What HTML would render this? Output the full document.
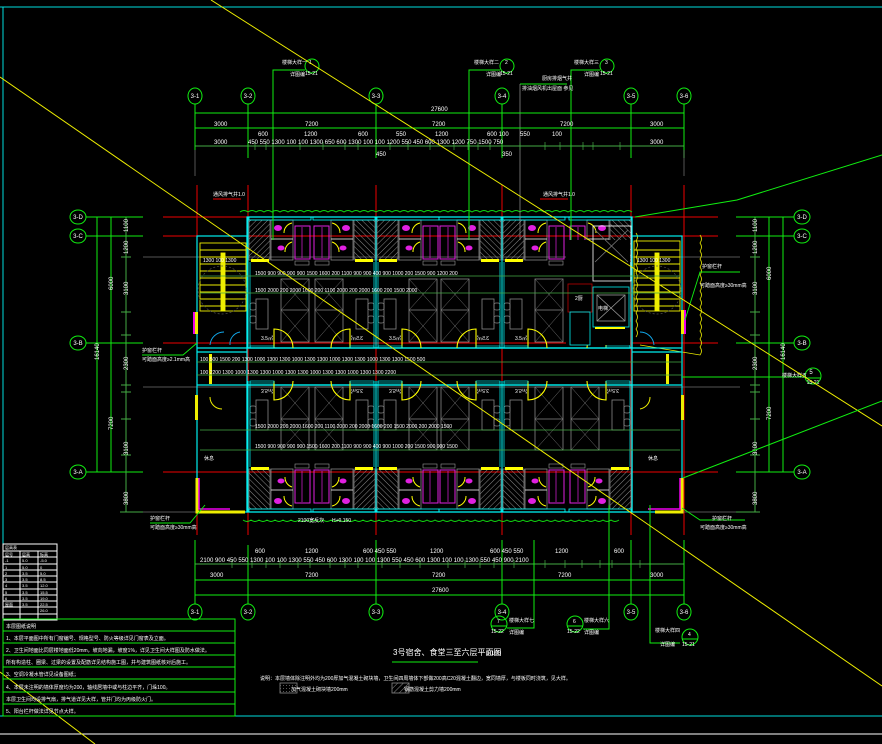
<!DOCTYPE html>
<html><head><meta charset="utf-8">
<style>
html,body{margin:0;padding:0;background:#000;width:882px;height:744px;overflow:hidden}
svg{display:block}
text{font-family:"Liberation Sans","Noto Sans CJK SC",sans-serif;fill:#fff}
</style></head><body>
<svg width="882" height="744" viewBox="0 0 882 744" xmlns="http://www.w3.org/2000/svg">
<defs>
<pattern id="h" width="4" height="4" patternUnits="userSpaceOnUse" patternTransform="rotate(45)">
<line x1="0" y1="0" x2="0" y2="4" stroke="#8a8a8a" stroke-width="1"/>
</pattern>
<pattern id="d" width="3" height="3" patternUnits="userSpaceOnUse"><rect x="1" y="1" width="0.8" height="0.8" fill="#888"/></pattern>
<!-- north room unit: width 64, height 131 -->
<g id="nr">
<rect x="1" y="3" width="21" height="40" fill="url(#h)" stroke="#888" stroke-width="0.7"/>
<rect x="23" y="3" width="22" height="40" fill="none" stroke="#999" stroke-width="0.7"/>
<line x1="23" y1="22" x2="45" y2="22" stroke="#fff" stroke-width="0.8"/>
<ellipse cx="30" cy="11" rx="4" ry="3" fill="#e020e0"/>
<ellipse cx="33" cy="31" rx="3.5" ry="2.5" fill="#e020e0"/>
<path d="M44 6 A10 10 0 0 0 36 16" fill="none" stroke="#ff0" stroke-width="1"/>
<path d="M44 25 A10 10 0 0 0 37 35" fill="none" stroke="#ff0" stroke-width="1"/>
<rect x="47" y="9" width="15" height="33" fill="none" stroke="#e020e0" stroke-width="1"/>
<line x1="54" y1="10" x2="54" y2="41" stroke="#e020e0" stroke-width="0.7"/>
<rect x="3" y="42" width="18" height="3" fill="#ff0"/>
<rect x="47" y="44" width="14" height="4" fill="none" stroke="#999" stroke-width="0.6"/>
<rect x="1" y="0" width="62" height="3" fill="none" stroke="#0ff" stroke-width="0.8"/>
<rect x="33" y="62" width="28" height="63" fill="none" stroke="#888" stroke-width="0.8"/>
<line x1="33" y1="93" x2="61" y2="93" stroke="#888" stroke-width="0.8"/>
<path d="M33 62 L61 93 M61 62 L33 93 M33 93 L61 125 M61 93 L33 125" stroke="#777" stroke-width="0.5"/>
<rect x="8" y="82" width="12" height="30" fill="none" stroke="#888" stroke-width="0.8"/>
<rect x="2" y="86" width="6" height="7" rx="2" fill="none" stroke="#888" stroke-width="0.7"/>
<rect x="2" y="99" width="6" height="7" rx="2" fill="none" stroke="#888" stroke-width="0.7"/>
<path d="M26 131 L26 112 A19 19 0 0 1 45 131" fill="none" stroke="#ff0" stroke-width="1.1"/>
<rect x="2" y="129" width="24" height="2" fill="none" stroke="#0ff" stroke-width="0.6"/>
<text x="13" y="123" font-size="5">3.5㎡</text>
<line x1="0" y1="0" x2="0" y2="131" stroke="#0ff" stroke-width="0.9"/>
<line x1="2" y1="45" x2="2" y2="131" stroke="#0ff" stroke-width="0.7"/>
</g>
</defs>

<!-- frame -->
<line x1="0" y1="7" x2="882" y2="7" stroke="#0dd" stroke-width="1"/>
<line x1="3" y1="7" x2="3" y2="716" stroke="#0dd" stroke-width="1"/>
<line x1="0" y1="716" x2="882" y2="716" stroke="#0dd" stroke-width="1"/>
<line x1="0" y1="734" x2="882" y2="734" stroke="#fff" stroke-width="1"/>

<!-- red axis lines -->
<g stroke="#e00" stroke-width="1">
<line x1="197" y1="185" x2="197" y2="535"/><line x1="248" y1="185" x2="248" y2="535"/>
<line x1="376" y1="185" x2="376" y2="535"/><line x1="502" y1="185" x2="502" y2="535"/>
<line x1="631" y1="185" x2="631" y2="535"/><line x1="684" y1="185" x2="684" y2="535"/>
<line x1="163" y1="217" x2="718" y2="217"/><line x1="163" y1="236" x2="718" y2="236"/>
<line x1="163" y1="343" x2="718" y2="343"/><line x1="163" y1="472" x2="718" y2="472"/>
</g>
<g stroke="#555" stroke-width="1">
<line x1="143" y1="257" x2="740" y2="257"/><line x1="143" y1="387" x2="740" y2="387"/>
<line x1="143" y1="512" x2="740" y2="512"/>
</g>

<!-- green cloud outline -->
<path d="M240 212 q4 -3 8 0 q4 -3 8 0 q4 -3 8 0 q4 -3 8 0 q4 -3 8 0 q4 -3 8 0 q4 -3 8 0 q4 -3 8 0 q4 -3 8 0 q4 -3 8 0 q4 -3 8 0 q4 -3 8 0 q4 -3 8 0 q4 -3 8 0 q4 -3 8 0 q4 -3 8 0 q4 -3 8 0 q4 -3 8 0 q4 -3 8 0 q4 -3 8 0 q4 -3 8 0 q4 -3 8 0 q4 -3 8 0 q4 -3 8 0 q4 -3 8 0 q4 -3 8 0 q4 -3 8 0 q4 -3 8 0 q4 -3 8 0 q4 -3 8 0 q4 -3 8 0 q4 -3 8 0 q4 -3 8 0 q4 -3 8 0 q4 -3 8 0 q4 -3 8 0 q4 -3 8 0 q4 -3 8 0 q4 -3 8 0 q4 -3 8 0 q4 -3 8 0 q4 -3 8 0 q4 -3 8 0 q4 -3 8 0 q4 -3 8 0 q4 -3 8 0 q4 -3 8 0 q4 -3 8 0 q4 -3 8 0" fill="none" stroke="#1d1" stroke-width="0.9"/>
<path d="M243 520 q4 3 8 0 q4 3 8 0 q4 3 8 0 q4 3 8 0 q4 3 8 0 q4 3 8 0 q4 3 8 0 q4 3 8 0 q4 3 8 0 q4 3 8 0 q4 3 8 0 q4 3 8 0 q4 3 8 0 q4 3 8 0 q4 3 8 0 q4 3 8 0 q4 3 8 0 q4 3 8 0 q4 3 8 0 q4 3 8 0 q4 3 8 0 q4 3 8 0 q4 3 8 0 q4 3 8 0 q4 3 8 0 q4 3 8 0 q4 3 8 0 q4 3 8 0 q4 3 8 0 q4 3 8 0 q4 3 8 0 q4 3 8 0 q4 3 8 0 q4 3 8 0 q4 3 8 0 q4 3 8 0 q4 3 8 0 q4 3 8 0 q4 3 8 0 q4 3 8 0 q4 3 8 0 q4 3 8 0 q4 3 8 0 q4 3 8 0 q4 3 8 0 q4 3 8 0 q4 3 8 0" fill="none" stroke="#1d1" stroke-width="0.9"/>
<path d="M636 233 q3 4 0 8 q3 4 0 8 q3 4 0 8 q3 4 0 8 q3 4 0 8 q3 4 0 8 q3 4 0 8 q3 4 0 8 q3 4 0 8 q3 4 0 8 q3 4 0 8 q3 4 0 8 q3 4 0 8" fill="none" stroke="#ee0" stroke-width="0.8"/>
<path d="M700 235 q3 4 0 8 q3 4 0 8 q3 4 0 8 q3 4 0 8 q3 4 0 8 q3 4 0 8 q3 4 0 8 q3 4 0 8 q3 4 0 8 q3 4 0 8 q3 4 0 8 q3 4 0 8 q3 4 0 8 q3 4 0 8 q3 4 0 8 L640 345" fill="none" stroke="#ee0" stroke-width="0.8"/>

<!-- building outer walls -->
<g fill="none" stroke="#0ee" stroke-width="1.2">
<rect x="197" y="236" width="50" height="276"/>
<rect x="632" y="236" width="50" height="276"/>
<path d="M247 217 H632 V348 H247 Z"/>
<path d="M247 385 H632 V512 H247 Z"/>
<line x1="197" y1="348" x2="682" y2="348"/><line x1="197" y1="385" x2="682" y2="385"/>
<line x1="197" y1="352" x2="247" y2="352"/><line x1="632" y1="352" x2="682" y2="352"/>
</g>

<!-- north rooms -->
<use href="#nr" transform="translate(248,217)"/>
<use href="#nr" transform="translate(376,217) scale(-1,1)"/>
<use href="#nr" transform="translate(376,217)"/>
<use href="#nr" transform="translate(502,217) scale(-1,1)"/>
<use href="#nr" transform="translate(502,217)"/>
<use href="#nr" transform="translate(632,217) scale(-1,1)"/>
<!-- south rooms -->
<use href="#nr" transform="translate(248,512) scale(1,-1)"/>
<use href="#nr" transform="translate(376,512) scale(-1,-1)"/>
<use href="#nr" transform="translate(376,512) scale(1,-1)"/>
<use href="#nr" transform="translate(502,512) scale(-1,-1)"/>
<use href="#nr" transform="translate(502,512) scale(1,-1)"/>
<use href="#nr" transform="translate(632,512) scale(-1,-1)"/>

<!-- overwrite north-right part: kitchen shaft / lift -->
<rect x="566" y="240" width="64" height="105" fill="#000"/>
<g fill="none" stroke-width="0.8">
<rect x="593" y="226" width="38" height="55" stroke="#fff"/>
<path d="M595 230 L628 262 M628 230 L595 262" stroke="#777"/>
<rect x="568" y="284" width="24" height="28" stroke="#b00"/>
<rect x="570" y="312" width="20" height="33" stroke="#0ee"/>
<rect x="593" y="287" width="36" height="40" stroke="#0ee"/>
<rect x="597" y="295" width="28" height="26" stroke="#999"/>
<path d="M597 295 L625 321 M625 295 L597 321" stroke="#999"/>
</g>
<rect x="595" y="327" width="30" height="2" fill="#ff0"/>
<text x="575" y="300" font-size="5">2厨</text><text x="598" y="310" font-size="5">电梯</text>

<!-- left stair -->
<g stroke="#ee0" stroke-width="0.9" fill="none">
<rect x="200" y="243" width="46" height="68"/>
<rect x="221" y="253" width="4" height="58" fill="#ee0"/>
<path d="M200 250 H246 M200 257 H246 M200 264 H246 M200 271 H246 M200 278 H246 M200 285 H246 M200 292 H246 M200 299 H246 M200 306 H246"/>
</g>
<circle cx="222" cy="290" r="24" fill="none" stroke="#555" stroke-dasharray="2 2" stroke-width="0.7"/>
<text x="203" y="262" font-size="5">1300 100 1300</text>
<!-- right stair -->
<g stroke="#ee0" stroke-width="0.9" fill="none">
<rect x="634" y="241" width="46" height="70"/>
<rect x="655" y="253" width="4" height="58" fill="#ee0"/>
<path d="M634 250 H680 M634 257 H680 M634 264 H680 M634 271 H680 M634 278 H680 M634 285 H680 M634 292 H680 M634 299 H680 M634 306 H680"/>
</g>
<circle cx="657" cy="290" r="24" fill="none" stroke="#555" stroke-dasharray="2 2" stroke-width="0.7"/>
<text x="637" y="262" font-size="5">1300 100 1300</text>
<!-- doors stairs -->
<path d="M210 345 A14 14 0 0 1 224 332 M240 332 A12 12 0 0 0 230 345" fill="none" stroke="#1ae" stroke-width="0.9"/>
<path d="M640 332 A14 14 0 0 1 654 345" fill="none" stroke="#1ae" stroke-width="0.9"/>

<!-- side yellow/magenta walls -->
<rect x="195" y="312" width="3" height="22" fill="#ee0"/><rect x="193" y="312" width="2" height="22" fill="#e0e"/>
<rect x="681" y="310" width="3" height="24" fill="#ee0"/><rect x="684" y="310" width="2" height="24" fill="#e0e"/>
<rect x="209" y="354" width="3" height="30" fill="#ee0"/><rect x="666" y="354" width="3" height="30" fill="#ee0"/>
<rect x="195" y="395" width="3" height="25" fill="#ee0"/><rect x="681" y="395" width="3" height="25" fill="#ee0"/>
<path d="M197 478 V512 H245" fill="none" stroke="#ee0" stroke-width="3"/>
<path d="M199 478 V509 H230" fill="none" stroke="#e0e" stroke-width="1.5"/>
<path d="M682 478 V512 H655" fill="none" stroke="#ee0" stroke-width="3"/>
<path d="M680 478 V509 H648" fill="none" stroke="#e0e" stroke-width="1.5"/>
<path d="M210 397 A12 12 0 0 0 222 409" fill="none" stroke="#ee0"/><path d="M650 397 A12 12 0 0 1 640 409" fill="none" stroke="#ee0"/>
<text x="204" y="460" font-size="5">休息</text><text x="648" y="460" font-size="5">休息</text>

<!-- interior green dim lines -->
<g stroke="#4a4" stroke-width="0.8">
<line x1="200" y1="276" x2="680" y2="276"/><line x1="200" y1="293" x2="680" y2="293"/>
<line x1="197" y1="362" x2="682" y2="362"/><line x1="197" y1="375" x2="682" y2="375"/>
<line x1="200" y1="430" x2="680" y2="430"/><line x1="200" y1="450" x2="680" y2="450"/>
</g>
<g font-size="5">
<text x="255" y="275">1500 900 900 900 900 1500 1600 200 1100 900 900 400 900 1000 200 1500 900 1200 200</text>
<text x="255" y="292">1500 2000 200 2000 1600 200 1100 2000 200 2000 1600 200 1500 2000</text>
<text x="200" y="361">100 500 1500 200 1300 1000 1300 1300 1000 1300 1300 1000 1300 1300 1000 1300 1300 1500 500</text>
<text x="200" y="374">100 2200 1300 1000 1300 1300 1000 1300 1300 1000 1300 1300 1000 1300 1300 2200</text>
<text x="255" y="428">1500 2000 200 2000 1600 200 1100 2000 200 2000 1600 200 1500 2000 200 2000 1500</text>
<text x="255" y="448">1500 900 900 900 900 1500 1600 200 1100 900 900 400 900 1000 200 1500 900 900 1500</text>
</g>

<!-- top callouts -->
<g stroke="#1e1" stroke-width="1" fill="none">
<polyline points="273,240 273,70 305,70"/><circle cx="312" cy="66" r="7"/>
<polyline points="469,240 469,70 500,70"/><circle cx="507" cy="66" r="7"/>
<polyline points="571,240 571,70 600,70"/><circle cx="607" cy="66" r="7"/>
<line x1="520" y1="84" x2="567" y2="84"/>
</g>
<line x1="520" y1="84" x2="520" y2="240" stroke="#999" stroke-width="0.7"/>
<g font-size="5">
<text x="282" y="64">楼梯大样一</text><text x="290" y="76">详图编</text><text x="309" y="64">1</text><text x="305" y="75">15-21</text>
<text x="474" y="64">楼梯大样二</text><text x="486" y="76">详图编</text><text x="505" y="64">2</text><text x="500" y="75">15-21</text>
<text x="574" y="64">楼梯大样三</text><text x="584" y="76">详图编</text><text x="605" y="64">3</text><text x="600" y="75">15-21</text>
<text x="542" y="80">厨房排烟气井</text><text x="522" y="90">排油烟风机出屋面 参见</text>
<text x="213" y="196">通风排气井1.0</text><text x="543" y="196">通风排气井1.0</text>
</g>
<line x1="213" y1="199" x2="241" y2="199" stroke="#e00"/><line x1="540" y1="199" x2="568" y2="199" stroke="#e00"/>

<!-- top axis circles & dims -->
<g stroke="#1e1" stroke-width="1" fill="none">
<ellipse cx="195" cy="96" rx="7" ry="8"/><ellipse cx="248" cy="96" rx="7" ry="8"/><ellipse cx="376" cy="96" rx="7" ry="8"/>
<ellipse cx="502" cy="96" rx="7" ry="8"/><ellipse cx="631" cy="96" rx="7" ry="8"/><ellipse cx="684" cy="96" rx="7" ry="8"/>
<line x1="195" y1="104" x2="195" y2="150"/><line x1="248" y1="104" x2="248" y2="158"/><line x1="376" y1="104" x2="376" y2="158"/>
<line x1="502" y1="104" x2="502" y2="158"/><line x1="631" y1="104" x2="631" y2="158"/><line x1="684" y1="104" x2="684" y2="158"/>
<line x1="195" y1="113" x2="684" y2="113"/><line x1="195" y1="128" x2="684" y2="128"/>
</g>
<line x1="195" y1="146" x2="684" y2="146" stroke="#4a4" stroke-width="1"/>
<g stroke="#777" stroke-width="0.7"><line x1="195" y1="150" x2="195" y2="176"/><line x1="684" y1="150" x2="684" y2="176"/></g>
<g stroke="#4a4" stroke-width="0.7">
<path d="M255 142v8M266 142v8M273 142v8M300 142v8M323 142v8M345 142v8M358 142v8M390 142v8M408 142v8M430 142v8M454 142v8M468 142v8M478 142v8M490 142v8M520 142v8M545 142v8M560 142v8M583 142v8M593 142v8M620 142v8"/>
</g>
<g font-size="6">
<text x="431" y="111">27600</text>
<text x="214" y="126">3000</text><text x="305" y="126">7200</text><text x="432" y="126">7200</text><text x="560" y="126">7200</text><text x="650" y="126">3000</text>
<text x="258" y="136">600</text><text x="304" y="136">1200</text><text x="358" y="136">600</text><text x="396" y="136">550</text><text x="435" y="136">1200</text><text x="487" y="136">600 100</text><text x="520" y="136">550</text><text x="552" y="136">100</text>
<text x="214" y="144">3000</text><text x="248" y="144">450 550 1300 100  100 1300 650   600   1300 100  100 1200 550  450 600  1300  1200 750 1500  750</text><text x="650" y="144">3000</text>
<text x="376" y="156">450</text><text x="502" y="156">350</text>
</g>
<g font-size="6" text-anchor="middle">
<text x="195" y="98">3-1</text><text x="248" y="98">3-2</text><text x="376" y="98">3-3</text><text x="502" y="98">3-4</text><text x="631" y="98">3-5</text><text x="684" y="98">3-6</text>
</g>

<!-- bottom dims -->
<g stroke="#1e1" stroke-width="1" fill="none">
<ellipse cx="195" cy="612" rx="7" ry="8"/><ellipse cx="248" cy="612" rx="7" ry="8"/><ellipse cx="376" cy="612" rx="7" ry="8"/>
<ellipse cx="502" cy="612" rx="7" ry="8"/><ellipse cx="631" cy="612" rx="7" ry="8"/><ellipse cx="684" cy="612" rx="7" ry="8"/>
<line x1="195" y1="540" x2="195" y2="604"/><line x1="248" y1="545" x2="248" y2="604"/><line x1="376" y1="540" x2="376" y2="604"/>
<line x1="502" y1="540" x2="502" y2="604"/><line x1="631" y1="540" x2="631" y2="604"/><line x1="684" y1="540" x2="684" y2="604"/>
<line x1="195" y1="580" x2="684" y2="580"/><line x1="195" y1="595" x2="684" y2="595"/>
</g>
<line x1="195" y1="564" x2="684" y2="564" stroke="#4a4"/>
<g stroke="#4a4" stroke-width="0.7">
<path d="M232 560v8M252 560v8M266 560v8M280 560v8M298 560v8M310 560v8M330 560v8M345 560v8M358 560v8M382 560v8M400 560v8M420 560v8M448 560v8M465 560v8M480 560v8M494 560v8M514 560v8M545 560v8M565 560v8M582 560v8M600 560v8M612 560v8M640 560v8"/>
</g>
<g font-size="6">
<text x="432" y="592">27600</text>
<text x="210" y="577">3000</text><text x="305" y="577">7200</text><text x="432" y="577">7200</text><text x="558" y="577">7200</text><text x="650" y="577">3000</text>
<text x="200" y="562">2100  900 450 550 1300 100  100 1300 550 450 600  1300 100  100 1300 550 450 600  1300 100  100 1300 550 450 900  2100</text>
<text x="255" y="553">600</text><text x="305" y="553">1200</text><text x="363" y="553">600 450 550</text><text x="430" y="553">1200</text><text x="490" y="553">600 450 550</text><text x="555" y="553">1200</text><text x="614" y="553">600</text>
</g>
<g font-size="6" text-anchor="middle">
<text x="195" y="614">3-1</text><text x="248" y="614">3-2</text><text x="376" y="614">3-3</text><text x="502" y="614">3-4</text><text x="631" y="614">3-5</text><text x="684" y="614">3-6</text>
</g>
<!-- bottom callouts -->
<g stroke="#1e1" stroke-width="1" fill="none">
<polyline points="534,540 534,628 507,628"/><circle cx="499" cy="624" r="8"/>
<polyline points="609,505 609,629 583,629"/><circle cx="575" cy="624" r="8"/>
<polyline points="650,505 650,643 680,643"/><circle cx="690" cy="637" r="8"/>
<line x1="491" y1="626" x2="507" y2="626"/><line x1="567" y1="626" x2="583" y2="626"/><line x1="682" y1="639" x2="698" y2="639"/>
</g>
<g font-size="5">
<text x="497" y="623">7</text><text x="491" y="633">15-22</text><text x="509" y="622">楼梯大样七</text><text x="509" y="634">详图编</text>
<text x="573" y="623">6</text><text x="567" y="633">15-22</text><text x="584" y="622">楼梯大样六</text><text x="584" y="634">详图编</text>
<text x="688" y="636">4</text><text x="682" y="646">15-21</text><text x="655" y="632">楼梯大样四</text><text x="660" y="646">详图编</text>
<text x="298" y="522">2100宽反坎</text><text x="332" y="522">H+0.150</text>
</g>

<!-- left axis -->
<g stroke="#1e1" stroke-width="1" fill="none">
<ellipse cx="78" cy="217" rx="8" ry="7"/><ellipse cx="78" cy="236" rx="8" ry="7"/><ellipse cx="78" cy="343" rx="8" ry="7"/><ellipse cx="78" cy="472" rx="8" ry="7"/>
<line x1="86" y1="217" x2="143" y2="217"/><line x1="86" y1="236" x2="143" y2="236"/><line x1="86" y1="343" x2="143" y2="343"/><line x1="86" y1="472" x2="143" y2="472"/>
<line x1="97" y1="217" x2="97" y2="472"/><line x1="111" y1="217" x2="111" y2="472"/>
<ellipse cx="802" cy="217" rx="8" ry="7"/><ellipse cx="802" cy="236" rx="8" ry="7"/><ellipse cx="802" cy="343" rx="8" ry="7"/><ellipse cx="802" cy="472" rx="8" ry="7"/>
<line x1="736" y1="217" x2="794" y2="217"/><line x1="736" y1="236" x2="794" y2="236"/><line x1="736" y1="343" x2="794" y2="343"/><line x1="736" y1="472" x2="794" y2="472"/>
<line x1="769" y1="217" x2="769" y2="472"/><line x1="783" y1="217" x2="783" y2="472"/>
<line x1="682" y1="377" x2="805" y2="377"/><circle cx="813" cy="376" r="8"/><line x1="805" y1="378" x2="821" y2="378"/>
</g>
<g stroke="#4a4" stroke-width="1"><line x1="126" y1="217" x2="126" y2="512"/><line x1="755" y1="217" x2="755" y2="512"/>
<line x1="120" y1="512" x2="143" y2="512"/><line x1="736" y1="512" x2="760" y2="512"/>
<path d="M121 257h10M121 312h10M121 335h10M121 385h10M121 392h10M121 419h10M121 455h10M750 257h10M750 312h10M750 335h10M750 385h10M750 392h10M750 419h10M750 455h10"/></g>
<g font-size="6" text-anchor="middle">
<text x="78" y="219">3-D</text><text x="78" y="238">3-C</text><text x="78" y="345">3-B</text><text x="78" y="474">3-A</text>
<text x="802" y="219">3-D</text><text x="802" y="238">3-C</text><text x="802" y="345">3-B</text><text x="802" y="474">3-A</text>
<text x="811" y="374">5</text><text x="813" y="384" font-size="5">15-21</text>
</g>
<g font-size="6">
<text transform="translate(99,360) rotate(-90)">16140</text><text transform="translate(113,290) rotate(-90)">6000</text><text transform="translate(113,430) rotate(-90)">7200</text>
<text transform="translate(128,232) rotate(-90)">1100</text><text transform="translate(128,254) rotate(-90)">1200</text><text transform="translate(128,295) rotate(-90)">3100</text><text transform="translate(128,370) rotate(-90)">2300</text><text transform="translate(128,455) rotate(-90)">3100</text><text transform="translate(128,505) rotate(-90)">3800</text>
<text transform="translate(785,360) rotate(-90)">16140</text><text transform="translate(771,280) rotate(-90)">6000</text><text transform="translate(771,420) rotate(-90)">7200</text>
<text transform="translate(757,232) rotate(-90)">1100</text><text transform="translate(757,254) rotate(-90)">1200</text><text transform="translate(757,295) rotate(-90)">3100</text><text transform="translate(757,370) rotate(-90)">2300</text><text transform="translate(757,455) rotate(-90)">3100</text><text transform="translate(757,505) rotate(-90)">3800</text>
<text x="782" y="377" font-size="5">楼梯大样五</text>
</g>
<!-- side notes -->
<g stroke="#1e1" stroke-width="0.9" fill="none">
<polyline points="142,355 183,355 197,343"/><polyline points="150,523 190,523 205,505"/>
<polyline points="740,272 700,272 685,320"/><polyline points="745,520 700,520 682,508"/>
</g>
<g font-size="5">
<text x="142" y="352">护窗栏杆</text><text x="142" y="361">可踏面高度≥2.1mm高</text>
<text x="150" y="520">护窗栏杆</text><text x="150" y="529">可踏面高度≥30mm高</text>
<text x="702" y="268">护窗栏杆</text><text x="700" y="287">可踏面高度≥30mm高</text>
<text x="712" y="520">护窗栏杆</text><text x="700" y="529">可踏面高度≥30mm高</text>
</g>

<!-- diagonals -->
<line x1="211" y1="0" x2="882" y2="426" stroke="#ee0" stroke-width="1"/>
<line x1="0" y1="77" x2="882" y2="686" stroke="#ee0" stroke-width="1"/>
<line x1="0" y1="672" x2="95" y2="744" stroke="#ee0" stroke-width="1"/>
<polyline points="635,217 737,200 882,155" fill="none" stroke="#1e1" stroke-width="1"/>
<line x1="683" y1="478" x2="882" y2="401" stroke="#1e1" stroke-width="1"/>

<!-- bottom-left table -->
<g stroke="#fff" stroke-width="1" fill="none">
<rect x="3" y="544" width="54" height="76"/>
<path d="M3 551H57M3 557H57M3 564H57M3 570H57M3 576H57M3 582H57M3 589H57M3 595H57M3 601H57M3 607H57M3 614H57M20 551V620M38 551V620"/>
</g>
<g font-size="4">
<text x="5" y="549">层高表</text><text x="5" y="556">层号</text><text x="22" y="556">层高</text><text x="40" y="556">标高</text>
<text x="5" y="562">-1</text><text x="22" y="562">5.0</text><text x="40" y="562">-5.0</text>
<text x="5" y="569">1</text><text x="22" y="569">5.0</text><text x="40" y="569">0</text>
<text x="5" y="575">2</text><text x="22" y="575">3.5</text><text x="40" y="575">5.0</text>
<text x="5" y="581">3</text><text x="22" y="581">3.5</text><text x="40" y="581">8.5</text>
<text x="5" y="587">4</text><text x="22" y="587">3.5</text><text x="40" y="587">12.0</text>
<text x="5" y="594">5</text><text x="22" y="594">3.5</text><text x="40" y="594">15.5</text>
<text x="5" y="600">6</text><text x="22" y="600">3.5</text><text x="40" y="600">19.0</text>
<text x="5" y="606">屋面</text><text x="22" y="606">3.5</text><text x="40" y="606">22.5</text>
<text x="40" y="612">26.0</text>
</g>
<g stroke="#1e1" stroke-width="1" fill="none">
<rect x="3" y="619" width="232" height="97"/>
<path d="M3 631H235M3 643H235M3 655H235M3 667H235M3 679H235M3 692H235M3 704H235"/>
</g>
<g font-size="5">
<text x="6" y="628">本层图纸说明</text>
<text x="6" y="640">1、本层平面图中所有门窗编号、规格型号、防火等级详见门窗表及立面。</text>
<text x="6" y="652">2、卫生间地面比同层楼地面低20mm，坡向地漏，坡度1%，详见卫生间大样图及防水做法。</text>
<text x="6" y="664">所有构造柱、圈梁、过梁的设置及配筋详见结构施工图，并与建筑图纸核对后施工。</text>
<text x="6" y="676">3、空调冷凝水管详见设备图纸；</text>
<text x="6" y="689">4、本层未注明的墙体厚度均为200，轴线居墙中或与柱边平齐，门垛100。</text>
<text x="6" y="701">本层卫生间均设排气扇，排气道详见大样，管井门均为丙级防火门。</text>
<text x="6" y="713">5、阳台栏杆做法详见节点大样。</text>
</g>

<!-- title & notes -->
<text x="393" y="655" font-size="8">3号宿舍、食堂三至六层平面图</text>
<text x="486" y="655" font-size="6">1:100</text>
<line x1="392" y1="662" x2="478" y2="662" stroke="#1e1" stroke-width="1"/>
<text x="260" y="680" font-size="5">说明：本层墙体除注明外均为200厚加气混凝土砌块墙，卫生间四周墙体下部做200高C20混凝土翻边，宽同墙厚，与楼板同时浇筑，见大样。</text>
<rect x="280" y="683" width="17" height="10" fill="url(#d)" stroke="#888" stroke-width="0.8"/>
<text x="291" y="691" font-size="5">加气混凝土砌块墙200mm</text>
<rect x="392" y="683" width="17" height="10" fill="url(#h)" stroke="#888" stroke-width="0.8"/>
<text x="404" y="691" font-size="5">钢筋混凝土剪力墙200mm</text>
</svg>
</body></html>
